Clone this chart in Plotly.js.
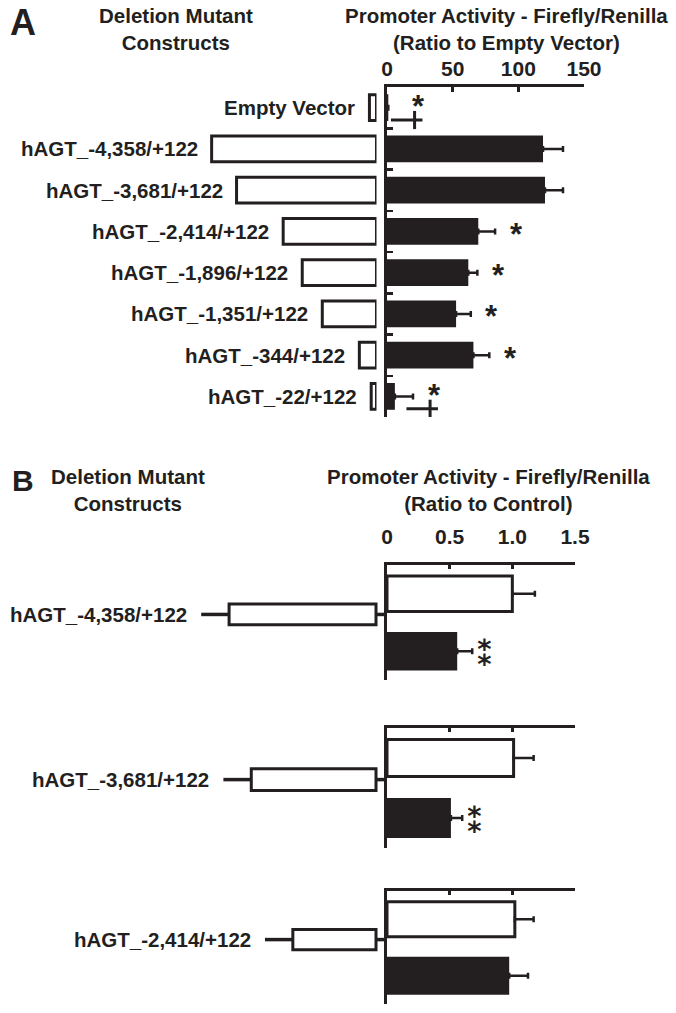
<!DOCTYPE html>
<html>
<head>
<meta charset="utf-8">
<script src="https://cdn.plot.ly/plotly-3.0.1.min.js"></script>
<style>html,body{margin:0;padding:0;background:#fff;}#chart{width:676px;height:1013px;}</style>
</head>
<body>
<div id="chart"></div>
<script>
// ---------- Panel A data ----------
const constructsA = ['Empty Vector','hAGT_-4,358/+122','hAGT_-3,681/+122','hAGT_-2,414/+122','hAGT_-1,896/+122','hAGT_-1,351/+122','hAGT_-344/+122','hAGT_-22/+122'];
const constructStartA = [-70, -4358, -3681, -2414, -1896, -1351, -344, -22]; // empty vector: nominal stub
const promoterEnd = 122;
const activityA = [1, 118.8, 120.3, 69.5, 61.9, 52.6, 65.8, 6];
const activityErrA = [0, 15.2, 13.7, 12.8, 6.9, 11.2, 12.1, 13.8];
const starA = [true, false, false, true, true, true, true, true];
const daggerA = [true, false, false, false, false, false, false, true];
const ticksA = [0, 50, 100, 150];

// ---------- Panel B data ----------
const constructsB = ['hAGT_-4,358/+122','hAGT_-3,681/+122','hAGT_-2,414/+122'];
const constructStartB = [-4358, -3681, -2414];
const controlB = [1.0, 1.01, 1.02];
const controlErrB = [0.18, 0.16, 0.15];
const treatedB = [0.56, 0.51, 0.975];
const treatedErrB = [0.12, 0.09, 0.15];
const doubleStarB = [true, true, false];
const tickValsB = [0, 0.5, 1, 1.5];
const tickTextB = ['0', '0.5', '1.0', '1.5'];

// ---------- style / layout helpers ----------
const INK = '#231f20';
const FONT = 'Liberation Sans, Arial, Helvetica, sans-serif';
const W = 676, H = 1013;
const px = p => p / W;
const py = p => 1 - p / H;
const font = (s) => ({family: FONT, size: s, color: INK, weight: 700});
const LBL = 20.5;

const traces = [];
const annotations = [];
const shapes = [];

// Panel A: construct diagrams
traces.push({
  type: 'bar', orientation: 'h', xaxis: 'x2', yaxis: 'y',
  y: constructsA, base: constructStartA, x: constructStartA.map(s => promoterEnd - s),
  width: 0.63, marker: {color: '#ffffff', line: {color: INK, width: 3}}, hoverinfo: 'skip'
});
// Panel A: activity bars
traces.push({
  type: 'bar', orientation: 'h', xaxis: 'x', yaxis: 'y',
  y: constructsA, x: activityA, width: 0.65,
  marker: {color: INK, line: {width: 0}},
  error_x: {type: 'data', symmetric: false, array: activityErrA, arrayminus: activityA.map(() => 0),
            color: INK, thickness: 2.5, width: 3},
  hoverinfo: 'x+y'
});
constructsA.forEach((c, i) => {
  annotations.push({xref: 'x2', yref: 'y', x: constructStartA[i], y: c, text: c, showarrow: false,
    xanchor: 'right', yanchor: 'middle', xshift: -12, font: font(LBL)});
  const ax = Math.max(activityA[i] + activityErrA[i], 8) + 16;
  if (starA[i]) {
    annotations.push({xref: 'x', yref: 'y', x: ax, y: c, text: '*', showarrow: false,
      xanchor: 'center', yanchor: 'middle', yshift: daggerA[i] ? 1 : -3, font: font(31)});
  }
  if (daggerA[i]) {
    shapes.push({type: 'line', xref: 'x', yref: 'y', x0: ax - 21, x1: ax + 3, y0: i + 0.3, y1: i + 0.3,
      line: {color: INK, width: 3}});
    shapes.push({type: 'line', xref: 'x', yref: 'y', x0: ax - 3, x1: ax - 3, y0: i + 0.08, y1: i + 0.52,
      line: {color: INK, width: 3}});
  }
});

// Panel B
const stemBp = 850;
constructsB.forEach((c, g) => {
  const xa = 'x' + (3 + g), ya = 'y' + (3 + g);
  traces.push({type: 'bar', orientation: 'h', xaxis: xa, yaxis: ya, y: [0], x: [controlB[g]], width: 0.62,
    marker: {color: '#ffffff', line: {color: INK, width: 3}},
    error_x: {type: 'data', symmetric: false, array: [controlErrB[g]], arrayminus: [0], color: INK, thickness: 2.5, width: 3}});
  traces.push({type: 'bar', orientation: 'h', xaxis: xa, yaxis: ya, y: [1], x: [treatedB[g]], width: 0.67,
    marker: {color: INK, line: {width: 0}},
    error_x: {type: 'data', symmetric: false, array: [treatedErrB[g]], arrayminus: [0], color: INK, thickness: 2.5, width: 3}});
  // construct diagram
  const s = constructStartB[g];
  traces.push({type: 'scatter', mode: 'lines', xaxis: 'x6', yaxis: ya,
    x: [s - stemBp, s, null, promoterEnd, 457], y: [0.36, 0.36, null, 0.36, 0.36],
    line: {color: INK, width: 3.5}, hoverinfo: 'skip'});
  traces.push({type: 'bar', orientation: 'h', xaxis: 'x6', yaxis: ya, y: [0.36], base: [s], x: [promoterEnd - s],
    width: 0.36, marker: {color: '#ffffff', line: {color: INK, width: 3}}, hoverinfo: 'skip'});
  annotations.push({xref: 'x6', yref: ya, x: s - stemBp, y: 0.36, text: c, showarrow: false,
    xanchor: 'right', yanchor: 'middle', xshift: -12, font: font(LBL)});
  if (doubleStarB[g]) {
    const ax = treatedB[g] + treatedErrB[g] + 0.1;
    annotations.push({xref: xa, yref: ya, x: ax, y: 1, showarrow: false, yshift: -3,
      font: {family: 'DejaVu Sans, Noto Sans, sans-serif', size: 34, color: INK, weight: 700},
      text: '\u2051'});
  }
});

// Titles
annotations.push({xref: 'paper', yref: 'paper', x: px(8), y: py(23), xanchor: 'left', yanchor: 'middle', text: 'A', showarrow: false, font: font(36)});
annotations.push({xref: 'paper', yref: 'paper', x: px(176), y: py(29), xanchor: 'center', yanchor: 'middle', text: 'Deletion Mutant<br>Constructs', showarrow: false, font: font(LBL)});
annotations.push({xref: 'paper', yref: 'paper', x: px(506), y: py(29), xanchor: 'center', yanchor: 'middle', text: 'Promoter Activity - Firefly/Renilla<br>(Ratio to Empty Vector)', showarrow: false, font: font(LBL)});
annotations.push({xref: 'paper', yref: 'paper', x: px(10), y: py(480), xanchor: 'left', yanchor: 'middle', text: 'B', showarrow: false, font: font(30)});
annotations.push({xref: 'paper', yref: 'paper', x: px(128), y: py(490), xanchor: 'center', yanchor: 'middle', text: 'Deletion Mutant<br>Constructs', showarrow: false, font: font(LBL)});
annotations.push({xref: 'paper', yref: 'paper', x: px(488), y: py(490), xanchor: 'center', yanchor: 'middle', text: 'Promoter Activity - Firefly/Renilla<br>(Ratio to Control)', showarrow: false, font: font(LBL)});

const axLine = {showline: true, linewidth: 3, linecolor: INK, showgrid: false, zeroline: false, fixedrange: true};

const layout = {
  width: W, height: H, margin: {l: 0, r: 0, t: 0, b: 0},
  paper_bgcolor: '#ffffff', plot_bgcolor: 'rgba(0,0,0,0)',
  showlegend: false, barmode: 'overlay',
  xaxis: Object.assign({}, axLine, {domain: [px(387), px(584)], range: [0, 150], side: 'top', anchor: 'y',
    tickvals: ticksA, ticks: 'inside', ticklen: 5, tickwidth: 2.5, tickcolor: INK, tickfont: font(21), ticklabelstandoff: 0}),
  yaxis: Object.assign({}, axLine, {domain: [py(417), py(87)], type: 'category', categoryorder: 'array', categoryarray: constructsA,
    range: [7.5, -0.5], anchor: 'x', ticks: 'inside', tickson: 'boundaries', ticklen: 6, tickwidth: 2.5, tickcolor: INK,
    showticklabels: false}),
  xaxis2: {domain: [px(60), px(376.5)], range: [-8478.5, 122], anchor: 'y', visible: false, fixedrange: true},
  xaxis6: {domain: [px(60), px(387)], range: [-9513, 457], anchor: 'y3', visible: false, fixedrange: true},
  annotations: annotations, shapes: shapes
};
const tops = [565, 728, 891], bottoms = [680, 848, 1004];
for (let g = 0; g < 3; g++) {
  layout['xaxis' + (3 + g)] = Object.assign({}, axLine, {domain: [px(387), px(575)], range: [0, 1.5], side: 'top',
    anchor: 'y' + (3 + g), tickvals: tickValsB, ticktext: tickTextB, ticks: 'inside', ticklen: 4, tickwidth: 2.5,
    tickcolor: INK, showticklabels: g === 0, tickfont: font(21), ticklabelstandoff: 10});
  layout['yaxis' + (3 + g)] = Object.assign({}, axLine, {domain: [py(bottoms[g]), py(tops[g])], range: [1.5, -0.5],
    anchor: 'x' + (3 + g), ticks: '', showticklabels: false});
}

Plotly.newPlot('chart', traces, layout, {displayModeBar: false, staticPlot: true});
</script>
</body>
</html>
